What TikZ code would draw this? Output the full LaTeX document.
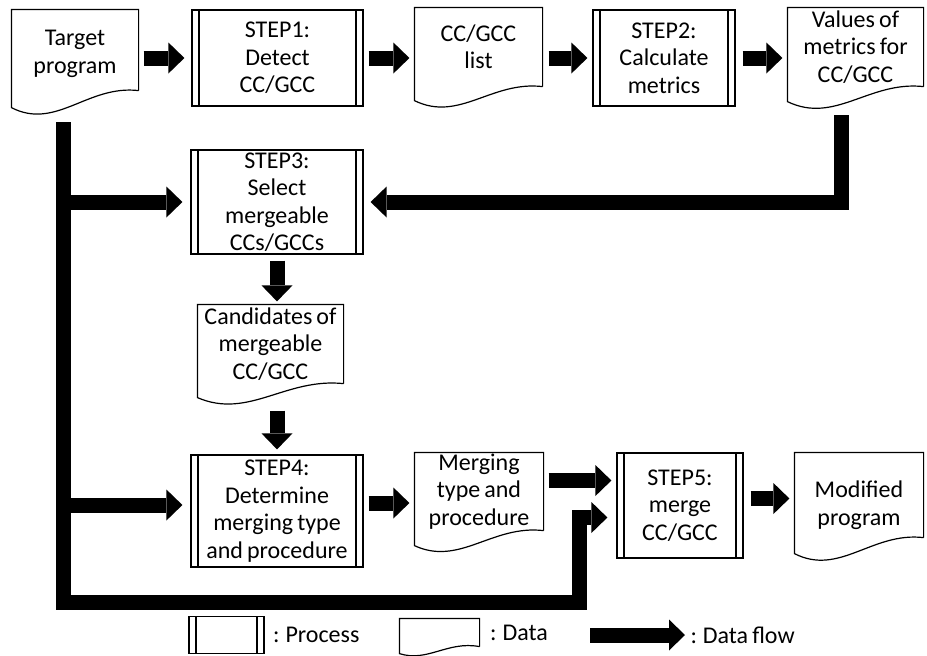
\documentclass[tikz,border=0pt]{standalone}
\usepackage{fontspec}
\setmainfont{Carlito}
\usepackage{tikz}
\usetikzlibrary{positioning}
\usetikzlibrary{arrows.meta}
\usetikzlibrary{calc}
\newcommand\boxfont{\fontsize{24}{27.5}\selectfont\spaceskip=0.17em plus 0.05em\relax}

\begin{document}
\begin{tikzpicture}
[   x = 1pt,
    y = -1pt,
    font = \boxfont,
    line width = 1.2pt,
    inner sep = 0pt,
    process/.style={
        draw, rectangle, align=center,
        path picture={
            \draw ([xshift=7pt]path picture bounding box.north west) -- ([xshift=7pt]path picture bounding box.south west);
            \draw ([xshift=-7pt]path picture bounding box.north east) -- ([xshift=-7pt]path picture bounding box.south east);
        }
    },
    data/.style={rectangle, align=center},
    flow/.style={line width=15pt, -{Triangle[length=16pt,width=31pt,line width=0pt]}}
]
\useasboundingbox (0,0) rectangle (927,656);

\node[data, minimum width=126pt, minimum height=88pt] (tgt) at (75,54) {Target\\program};
\node[process, minimum width=171pt, minimum height=96pt] (s1) at (277.5,58) {STEP1:\\Detect\\CC/GCC};
\node[data, minimum width=127pt, minimum height=78pt] (ccl) at (478.5,47) {CC/GCC\\list};
\node[process, minimum width=142pt, minimum height=96pt] (s2) at (664,58) {STEP2:\\Calculate\\metrics};
\node[data, minimum width=135pt, minimum height=78pt] (vals) at (855.5,47) {Values of\\metrics for\\CC/GCC};

\node[process, minimum width=172pt, minimum height=104pt] (s3) at (277,202) {STEP3:\\Select\\mergeable\\CCs/GCCs};
\node[data, minimum width=145pt, minimum height=78pt] (cand) at (270.5,344) {Candidates of\\mergeable\\CC/GCC};
\node[process, minimum width=172pt, minimum height=112pt] (s4) at (277,511) {STEP4:\\Determine\\merging type\\and procedure};
\node[data, minimum width=128pt, minimum height=77pt] (mtype) at (479,491.5) {Merging\\type and\\procedure};
\node[process, minimum width=126pt, minimum height=105pt] (s5) at (680,505.5) {STEP5:\\merge\\CC/GCC};
\node[data, minimum width=128pt, minimum height=104pt] (modp) at (859,505) {Modified\\program};

\node[process, minimum width=75pt, minimum height=37pt] (lproc) at (226.5,635) {};
\node[right=8pt of lproc] (lproct) {: Process};
\node[data, minimum width=79pt, minimum height=27pt] (ldata) at (439.5,632.5) {};
\node[right=10pt of ldata] (ldatat) {: Data};
\node[anchor=west] (lflowt) at (690,635) {: Data flow};
\coordinate (lflow) at (590,635);

\foreach \n/\a/\r/\b in {tgt/9/8/23, ccl/14/0/22, vals/15/0/23, cand/14/0/22, mtype/15/0/21, modp/-4/20/23, ldata/7/0/9}
    \draw ([yshift=\r pt]\n.south east) -- (\n.north east) -- (\n.north west) -- ([yshift=-\a pt]\n.south west)
        .. controls ($(\n.south west)!0.35!(\n.south east) + (0,\a+\b)$) and ($(\n.south west)!0.6!(\n.south east) + (0,-\r-6)$) .. ([yshift=\r pt]\n.south east);

\coordinate (bus) at (63.5,122);
\coordinate (busend) at (579.5,602.5);
\coordinate (vr) at (841,115);

\draw[flow, shorten <=5pt, shorten >=7pt] (tgt.east |- s1.west) -- (s1.west);
\draw[flow, shorten <=5pt, shorten >=5pt] (s1.east) -- (ccl.west |- s1.east);
\draw[flow, shorten <=6pt, shorten >=5pt] (ccl.east |- s2.west) -- (s2.west);
\draw[flow, shorten <=7pt, shorten >=5pt] (s2.east) -- (vals.west |- s2.east);
\draw[flow, shorten >=7pt] (vr) |- (s3.east);
\draw[flow, shorten >=9pt] (bus) |- (busend) |- ([yshift=-12pt]s5.west);
\draw[flow, shorten >=8pt] (bus |- s3.west) -- (s3.west);
\draw[flow, shorten >=8pt] ([yshift=6pt]s4.west -| bus) -- ([yshift=6pt]s4.west);
\draw[flow, shorten <=6pt, shorten >=3pt] (s3.south) -- (cand.north -| s3.south);
\draw[flow, shorten >=5pt] ([yshift=-27pt]cand.south -| s4.north) -- (s4.north);
\draw[flow, shorten <=5pt, shorten >=5pt] ([yshift=8pt]s4.east) -- ([yshift=8pt]s4.east -| mtype.west);
\draw[flow, shorten <=5pt, shorten >=5pt] ([yshift=11pt]mtype.east) -- ([yshift=11pt]mtype.east -| s5.west);
\draw[flow, shorten <=7pt, shorten >=5pt] ([yshift=7pt]s5.east) -- ([yshift=7pt]s5.east -| modp.west);
\draw[flow, shorten >=5pt] (lflow) -- (lflowt.west);
\end{tikzpicture}
\end{document}
